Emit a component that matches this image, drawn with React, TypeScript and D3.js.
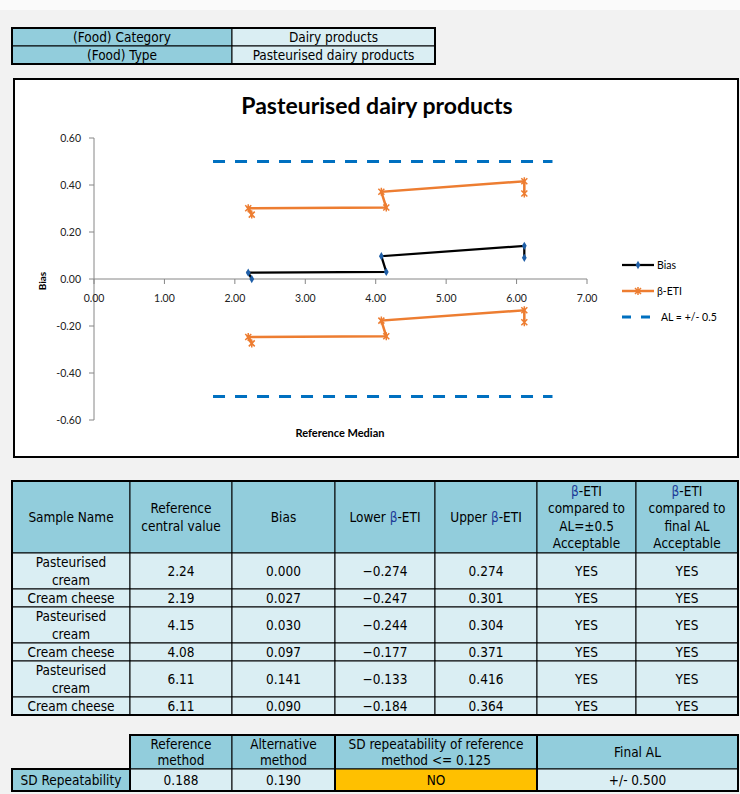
import React from "react";
import * as d3 from "d3";

// ---------- data ----------
const sampleNames = [
  "Pasteurised cream",
  "Cream cheese",
  "Pasteurised cream",
  "Cream cheese",
  "Pasteurised cream",
  "Cream cheese",
];
const refValues = [2.24, 2.19, 4.15, 4.08, 6.11, 6.11];
const biasValues = [0.0, 0.027, 0.03, 0.097, 0.141, 0.09];
const lowerETI = [-0.274, -0.247, -0.244, -0.177, -0.133, -0.184];
const upperETI = [0.274, 0.301, 0.304, 0.371, 0.416, 0.364];
const accAL = ["YES", "YES", "YES", "YES", "YES", "YES"];
const accFinal = ["YES", "YES", "YES", "YES", "YES", "YES"];
const alValue = 0.5;
const alXExtent = [1.69, 6.51];
const xTickValues = [0, 1, 2, 3, 4, 5, 6, 7];
const yTickValues = [-0.6, -0.4, -0.2, 0, 0.2, 0.4, 0.6];

const categoryRows = [
  ["(Food) Category", "Dairy products"],
  ["(Food) Type", "Pasteurised dairy products"],
];
const sdHeaders = ["Reference\nmethod", "Alternative\nmethod", "SD repeatability of reference\nmethod <= 0.125", "Final AL"];
const sdRow = ["SD Repeatability", "0.188", "0.190", "NO", "+/- 0.500"];

// ---------- styles ----------
const TEAL = "#92CDDC";
const LIGHT = "#DAEEF3";
const ORANGE_CELL = "#FFC000";
const LINE_ORANGE = "#ED7D31";
const AL_BLUE = "#0070C0";
const CHART_FONT = "Lato, 'Open Sans', sans-serif";
const TABLE_FONT = "'DejaVu Sans Condensed', 'Liberation Sans Narrow', 'Liberation Sans', sans-serif";

type CellProps = {
  x0: number; x1: number; y0: number; y1: number;
  fill: string; text: string; lh?: number; size?: number;
};

function renderText(text: string) {
  const parts = text.split("β");
  if (parts.length === 1) return text;
  const out: any[] = [];
  parts.forEach((p, i) => {
    if (i > 0) out.push(<tspan key={"b" + i} fill="#1f3d99">β</tspan>);
    out.push(<tspan key={"t" + i}>{p}</tspan>);
  });
  return out;
}

function Cell({ x0, x1, y0, y1, fill, text, lh = 17.5, size = 13.5 }: CellProps) {
  const lines = text.split("\n");
  const cx = (x0 + x1) / 2;
  const cy = (y0 + y1) / 2;
  const start = cy - ((lines.length - 1) * lh) / 2;
  return (
    <g>
      <rect x={x0} y={y0} width={x1 - x0} height={y1 - y0} fill={fill} stroke="#000" strokeWidth={1} />
      {lines.map((l, i) => (
        <text key={i} x={cx} y={start + i * lh} dy="0.36em" textAnchor="middle"
          fontFamily={TABLE_FONT} fontSize={size} fill="#000">
          {renderText(l)}
        </text>
      ))}
    </g>
  );
}

const tickFmt = (t: number) => d3.format(".2f")(t).replace("−", "-");

export default function App() {
  const x = d3.scaleLinear().domain([0, 7]).range([94, 587]);
  const y = d3.scaleLinear().domain([-0.6, 0.6]).range([420, 138]);

  const pts = (ys: number[]) => refValues.map((v, i) => [x(v), y(ys[i])] as [number, number]);
  const lineGen = d3.line<[number, number]>().x((d) => d[0]).y((d) => d[1]);
  const diamond = d3.symbol().type(d3.symbolDiamond).size(20)() as string;
  const star = "M-3,-3L3,3M-3,3L3,-3M0,-4L0,4";

  const colX = [12, 130, 232, 335, 435, 537, 636, 738];
  const rowY = [481, 553, 589, 607, 643, 661, 697, 715];
  const headers = [
    "Sample Name",
    "Reference\ncentral value",
    "Bias",
    "Lower β-ETI",
    "Upper β-ETI",
    "β-ETI\ncompared to\nAL=±0.5\nAcceptable",
    "β-ETI\ncompared to\nfinal AL\nAcceptable",
  ];
  const fmt3 = d3.format(".3f");
  const rows = sampleNames.map((n, i) => [
    i % 2 === 0 ? n.replace(" ", "\n") : n,
    d3.format(".2f")(refValues[i]),
    fmt3(biasValues[i]),
    fmt3(lowerETI[i]),
    fmt3(upperETI[i]),
    accAL[i],
    accFinal[i],
  ]);

  const sdColX = [130, 232, 335, 537, 738];

  return (
    <svg width={740} height={794} style={{ position: "absolute", left: 0, top: 0 }}>
      <rect x={0} y={0} width={740} height={794} fill="#f2f2f2" />
      <rect x={0} y={0} width={740} height={10} fill="#fafafa" />

      {/* category table */}
      {categoryRows.map((r, i) => (
        <g key={i}>
          <Cell x0={12} x1={232} y0={28 + i * 18} y1={46 + i * 18} fill={TEAL} text={r[0]} />
          <Cell x0={232} x1={435} y0={28 + i * 18} y1={46 + i * 18} fill={LIGHT} text={r[1]} />
        </g>
      ))}
      <rect x={12} y={28} width={423} height={36} fill="none" stroke="#000" strokeWidth={2} />

      {/* chart frame */}
      <rect x={14} y={79} width={724} height={378} fill="#fff" stroke="#000" strokeWidth={2} />
      <text x={377} y={106} dy="0.36em" textAnchor="middle" fontFamily={CHART_FONT} fontWeight="bold" fontSize={23}>
        Pasteurised dairy products
      </text>

      {/* axes */}
      <line x1={x(0)} x2={x(7)} y1={y(0)} y2={y(0)} stroke="#868686" strokeWidth={1} />
      <line x1={x(0)} x2={x(0)} y1={y(0.6)} y2={y(-0.6)} stroke="#868686" strokeWidth={1} />
      {xTickValues.map((t) => (
        <g key={"xt" + t}>
          <line x1={x(t)} x2={x(t)} y1={y(0)} y2={y(0) + 5} stroke="#868686" />
          <text x={x(t)} y={y(0) + 19} dy="0.36em" textAnchor="middle" fontFamily={CHART_FONT} fontSize={10.5} fill="#222">
            {tickFmt(t)}
          </text>
        </g>
      ))}
      {yTickValues.map((t) => (
        <g key={"yt" + t}>
          <line x1={x(0) - 5} x2={x(0)} y1={y(t)} y2={y(t)} stroke="#868686" />
          <text x={x(0) - 13} y={y(t)} dy="0.36em" textAnchor="end" fontFamily={CHART_FONT} fontSize={10.5} fill="#222">
            {tickFmt(t)}
          </text>
        </g>
      ))}
      <text transform={`translate(42,${y(0) + 2}) rotate(-90)`} textAnchor="middle" dy="0.36em"
        fontFamily={CHART_FONT} fontWeight="bold" fontSize={10}>
        Bias
      </text>
      <text x={340} y={433} dy="0.36em" textAnchor="middle" fontFamily={CHART_FONT} fontWeight="bold" fontSize={11}>
        Reference Median
      </text>

      {/* AL lines */}
      {[alValue, -alValue].map((v) => (
        <line key={"al" + v} x1={x(alXExtent[0])} x2={x(alXExtent[1])} y1={y(v)} y2={y(v)}
          stroke={AL_BLUE} strokeWidth={3} strokeDasharray="12,10" />
      ))}

      {/* beta-ETI */}
      {[upperETI, lowerETI].map((s, k) => (
        <g key={"eti" + k}>
          <path d={lineGen(pts(s)) as string} fill="none" stroke={LINE_ORANGE} strokeWidth={2.5} />
          {pts(s).map((p, i) => (
            <path key={i} d={star} transform={`translate(${p[0]},${p[1]})`} stroke={LINE_ORANGE} strokeWidth={1.5} fill="none" />
          ))}
        </g>
      ))}

      {/* bias */}
      <path d={lineGen(pts(biasValues)) as string} fill="none" stroke="#000" strokeWidth={2.25} />
      {pts(biasValues).map((p, i) => (
        <path key={i} d={diamond} transform={`translate(${p[0]},${p[1]})`} fill="#1F5FA8" />
      ))}

      {/* legend */}
      <g>
        <line x1={622} x2={654} y1={265} y2={265} stroke="#000" strokeWidth={2.25} />
        <path d={diamond} transform="translate(638,265)" fill="#1F5FA8" />
        <text x={657} y={265} dy="0.36em" fontFamily={CHART_FONT} fontSize={10.5}>Bias</text>
        <line x1={622} x2={654} y1={291} y2={291} stroke={LINE_ORANGE} strokeWidth={2.5} />
        <path d={star} transform="translate(638,291)" stroke={LINE_ORANGE} strokeWidth={1.5} fill="none" />
        <text x={657} y={291} dy="0.36em" fontFamily={CHART_FONT} fontSize={10.5}>β-ETI</text>
        <line x1={622} x2={654} y1={317} y2={317} stroke={AL_BLUE} strokeWidth={3} strokeDasharray="9,10" />
        <text x={661} y={317} dy="0.36em" fontFamily={CHART_FONT} fontSize={10.5}>AL = +/- 0.5</text>
      </g>

      {/* results table */}
      {headers.map((h, j) => (
        <Cell key={"h" + j} x0={colX[j]} x1={colX[j + 1]} y0={rowY[0]} y1={rowY[1]} fill={TEAL} text={h} lh={17.5} />
      ))}
      {rows.map((r, i) =>
        r.map((c, j) => (
          <Cell key={`c${i}-${j}`} x0={colX[j]} x1={colX[j + 1]} y0={rowY[i + 1]} y1={rowY[i + 2]} fill={LIGHT} text={c} lh={18} />
        ))
      )}
      <rect x={12} y={481} width={726} height={234} fill="none" stroke="#000" strokeWidth={2} />

      {/* SD repeatability table */}
      {sdHeaders.map((h, j) => (
        <Cell key={"sh" + j} x0={sdColX[j]} x1={sdColX[j + 1]} y0={735} y1={769} fill={TEAL} text={h} lh={16} />
      ))}
      <Cell x0={12} x1={130} y0={769} y1={791} fill={TEAL} text={sdRow[0]} />
      {sdRow.slice(1).map((v, j) => (
        <Cell key={"sv" + j} x0={sdColX[j]} x1={sdColX[j + 1]} y0={769} y1={791}
          fill={v === "NO" ? ORANGE_CELL : LIGHT} text={v} />
      ))}
      <rect x={130} y={735} width={608} height={56} fill="none" stroke="#000" strokeWidth={2} />
      <rect x={12} y={769} width={118} height={22} fill="none" stroke="#000" strokeWidth={2} />
      <line x1={335} x2={335} y1={735} y2={791} stroke="#000" strokeWidth={2} />
      <line x1={537} x2={537} y1={735} y2={791} stroke="#000" strokeWidth={2} />
    </svg>
  );
}
